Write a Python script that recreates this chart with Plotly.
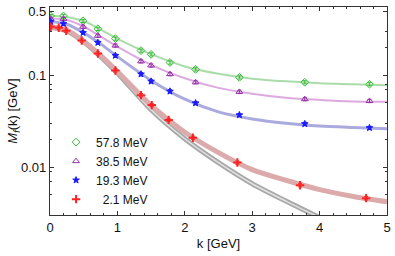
import plotly.graph_objects as go

# ---- data ----
k_pts = [0.01, 0.2, 0.49, 0.71, 0.97, 1.35, 1.5, 1.78, 2.16, 2.81, 3.78, 4.74]
m_578 = [0.443, 0.443, 0.392, 0.321, 0.251, 0.186, 0.169, 0.138, 0.116, 0.095, 0.084, 0.080]
m_385 = [0.412, 0.412, 0.338, 0.270, 0.211, 0.142, 0.128, 0.103, 0.084, 0.066, 0.055, 0.0525]
m_193 = [0.383, 0.364, 0.291, 0.227, 0.164, 0.103, 0.086, 0.067, 0.0499, 0.037, 0.0296, 0.0268]
k_red = [0.01, 0.13, 0.24, 0.47, 0.71, 0.97, 1.35, 1.51, 1.76, 2.12, 2.78, 3.71, 4.69]
m_21 = [0.338, 0.330, 0.306, 0.239, 0.173, 0.113, 0.0608, 0.0474, 0.0327, 0.0209, 0.01124, 0.00635, 0.0046]

# fit curves
k_fit = [0, 0.25, 0.5, 0.75, 1, 1.5, 2, 2.5, 3, 3.5, 4, 4.5, 5]
f_578 = [0.445, 0.43, 0.39, 0.315, 0.25, 0.17, 0.125, 0.104, 0.092, 0.086, 0.082, 0.080, 0.078]
f_385 = [0.415, 0.40, 0.34, 0.265, 0.205, 0.13, 0.093, 0.073, 0.063, 0.057, 0.054, 0.052, 0.0515]
f_193 = [0.385, 0.36, 0.29, 0.22, 0.16, 0.088, 0.055, 0.040, 0.0335, 0.030, 0.028, 0.027, 0.0262]
f_21 = [0.34, 0.31, 0.235, 0.165, 0.11, 0.047, 0.0240, 0.0144, 0.0094, 0.0072, 0.0057, 0.0048, 0.0042]
k_chi = [0, 0.25, 0.5, 0.75, 1, 1.5, 2, 2.5, 3, 3.5, 4]
f_chi = [0.335, 0.305, 0.232, 0.16, 0.106, 0.0422, 0.0204, 0.0112, 0.0066, 0.00427, 0.00282]

labels = ["57.8 MeV", "38.5 MeV", "19.3 MeV", "\u20072.1 MeV"]

FONT = "Liberation Sans, Arial, sans-serif"

fig = go.Figure()

# chiral-limit band (gray, double line look)
fig.add_trace(go.Scatter(x=k_chi, y=f_chi, mode="lines",
                         line=dict(color="#a8a8a8", width=5, shape="spline", smoothing=0.8),
                         showlegend=False, hoverinfo="skip"))
fig.add_trace(go.Scatter(x=k_chi, y=f_chi, mode="lines",
                         line=dict(color="#e2e2e2", width=1.5, shape="spline", smoothing=0.8),
                         showlegend=False, hoverinfo="skip"))

curves = [
    (f_21, "#dcaaaa", 5),
    (f_193, "#aaaadf", 3),
    (f_385, "#dcaadf", 2),
    (f_578, "#aadcaa", 2),
]
for f, c, w in curves:
    fig.add_trace(go.Scatter(x=k_fit, y=f, mode="lines",
                             line=dict(color=c, width=w, shape="spline", smoothing=0.8),
                             showlegend=False, hoverinfo="skip"))

series = [
    (k_pts, m_578, labels[0], "#33bb33", "diamond-open", 6, 1),
    (k_pts, m_385, labels[1], "#9933aa", "triangle-up-open", 6, 1),
    (k_pts, m_193, labels[2], "#1a1aff", "star", 5, 1),
    (k_red, m_21, labels[3], "#ff2222", "cross-thin-open", 6, 2),
]
for kx, my, name, col, sym, sz, lw in series:
    fig.add_trace(go.Scatter(
        x=kx, y=my, mode="markers", name=name,
        marker=dict(color=col, symbol=sym, size=sz, line=dict(color=col, width=lw)),
        error_y=dict(type="percent", value=4, color=col, thickness=1, width=2),
    ))

axis_common = dict(
    showline=True, linecolor="#333333", linewidth=1.2, mirror="allticks",
    ticks="inside", ticklen=4, tickcolor="#333333", showgrid=False, zeroline=False,
    tickfont=dict(family=FONT, size=13, color="#111111"),
)

fig.update_xaxes(
    range=[0, 5], tickmode="array", tickvals=[0, 1, 2, 3, 4, 5], ticktext=["0", "1", "2", "3", "4", "5"],
    ticklabeloverflow="allow",
    minor=dict(ticks="inside", ticklen=2, dtick=0.2, tick0=0, tickcolor="#333333"),
    title=dict(text="k [GeV]", font=dict(family=FONT, size=13, color="#111111"), standoff=5),
    **axis_common,
)
fig.update_yaxes(
    type="log", range=[-2.521, -0.256],
    tickvals=[0.5, 0.1, 0.01], ticktext=["0.5", "0.1", "0.01"],
    minor=dict(ticks="inside", ticklen=2, tickcolor="#333333",
               tickvals=[0.3, 0.2, 0.08, 0.07, 0.05, 0.03, 0.02, 0.009, 0.007, 0.005]),
    title=dict(text="<i>M</i><sub><i>f</i></sub>(k) [GeV]",
               font=dict(family=FONT, size=13, color="#111111"), standoff=0),
    **axis_common,
)

fig.update_layout(
    width=395, height=256,
    margin=dict(l=50, r=4, t=5, b=41),
    paper_bgcolor="white", plot_bgcolor="white",
    legend=dict(x=0.018, y=0.42, xanchor="left", yanchor="top", bgcolor="rgba(0,0,0,0)",
                font=dict(family=FONT, size=12, color="#111111"),
                tracegroupgap=0),
)

fig.write_html("out.html", config={"displayModeBar": False},
               post_script="document.body.style.margin='0';")
